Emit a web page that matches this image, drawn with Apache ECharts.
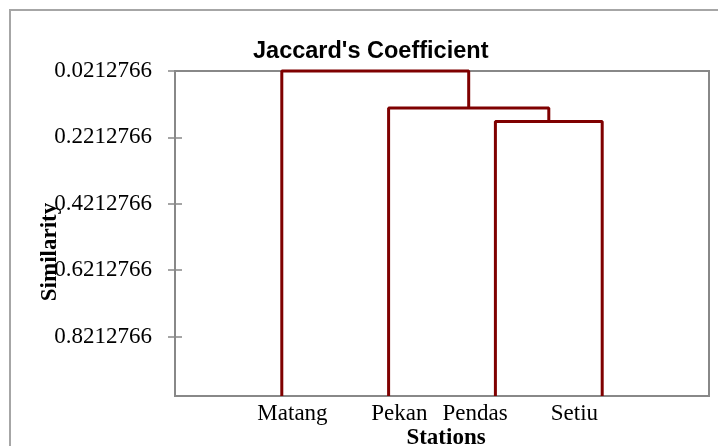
<!DOCTYPE html>
<html>
<head>
<meta charset="utf-8">
<script src="https://cdn.jsdelivr.net/npm/echarts@6/dist/echarts.min.js"></script>
<style>
  html, body { margin: 0; padding: 0; background: #fff; }
  #chart { width: 718px; height: 446px; }
</style>
</head>
<body>
<div id="chart"></div>
<script>
// stations (leaves) and where they stand on the x axis
var stations = ['Matang', 'Pekan', 'Pendas', 'Setiu'];
var leafX = [1, 2, 3, 4];
// where the station names sit under the axis (they are not centred on the leaves)
var labelX = [1.1, 2.1, 2.81, 3.74];

// merges: node a + node b -> new node, at a similarity level
// nodes 0..3 are the leaves, merges get 4, 5, 6
var mergeA = [2, 1, 0];
var mergeB = [3, 4, 5];
var mergeSim = [0.173, 0.133, 0.0212766];

// y axis tick labels
var yTicks = [0.0212766, 0.2212766, 0.4212766, 0.6212766, 0.8212766];
var yMin = 0.0212766, yMax = 1;

var nodeX = leafX.slice();
var nodeY = leafX.map(function () { return yMax; });
var series = [];
mergeA.forEach(function (a, i) {
    var b = mergeB[i];
    var h = mergeSim[i];
    series.push({
        type: 'line',
        data: [[nodeX[a], nodeY[a]], [nodeX[a], h], [nodeX[b], h], [nodeX[b], nodeY[b]]],
        symbol: 'none',
        clip: false,
        lineStyle: { color: '#7f0000', width: 3 },
        silent: true
    });
    nodeX.push((nodeX[a] + nodeX[b]) / 2);
    nodeY.push(h);
});

var myChart = echarts.init(document.getElementById('chart'));
myChart.setOption({
    animation: false,
    title: {
        text: "Jaccard's Coefficient",
        left: 248,
        top: 35,
        textStyle: { fontFamily: 'Liberation Sans', fontWeight: 'bold', fontSize: 23.5, color: '#000' }
    },
    graphic: [{
        type: 'rect',
        shape: { x: 10, y: 10, width: 720, height: 450 },
        style: { fill: 'none', stroke: '#a6a6a6', lineWidth: 2 },
        silent: true
    }, {
        // y axis title
        type: 'text',
        x: 50,
        y: 252,
        rotation: Math.PI / 2,
        style: {
            text: 'Similarity',
            fontFamily: 'Liberation Serif', fontWeight: 'bold', fontSize: 23,
            fill: '#000', align: 'center', verticalAlign: 'middle'
        },
        silent: true
    }],
    grid: {
        left: 175, right: 9, top: 71, bottom: 50,
        outerBoundsMode: 'none',
        show: true, borderColor: '#888', borderWidth: 2, backgroundColor: 'transparent'
    },
    xAxis: {
        type: 'value',
        min: 0,
        max: 5,
        name: 'Stations',
        nameLocation: 'middle',
        nameGap: 31,
        nameMoveOverlap: false,
        nameTextStyle: { fontFamily: 'Liberation Serif', fontWeight: 'bold', fontSize: 23, color: '#000', padding: [0, 0, 0, 8] },
        axisLine: { show: true, lineStyle: { color: '#888', width: 2 } },
        axisTick: { show: false },
        splitLine: { show: false },
        axisLabel: {
            customValues: labelX,
            margin: 6,
            fontFamily: 'Liberation Serif',
            fontSize: 23,
            color: '#000',
            formatter: function (v) {
                for (var i = 0; i < labelX.length; i++) {
                    if (Math.abs(labelX[i] - v) < 1e-6) return stations[i];
                }
                return '';
            }
        }
    },
    yAxis: [{
        type: 'value',
        min: yMin,
        max: yMax,
        inverse: true,
        axisLine: { show: true, lineStyle: { color: '#888', width: 2 } },
        axisTick: { show: true, customValues: yTicks, length: 7, lineStyle: { color: '#888', width: 1.5 } },
        splitLine: { show: false },
        axisLabel: {
            customValues: yTicks,
            margin: 23,
            fontFamily: 'Liberation Serif',
            fontSize: 23,
            color: '#000',
            formatter: function (v) { return v.toFixed(7); }
        }
    }, {
        // second copy only for the inner half of the cross ticks
        type: 'value',
        position: 'left',
        min: yMin,
        max: yMax,
        inverse: true,
        axisLine: { show: false },
        axisTick: { show: true, inside: true, customValues: yTicks, length: 7, lineStyle: { color: '#888', width: 1.5 } },
        axisLabel: { show: false },
        splitLine: { show: false }
    }],
    series: series
});
</script>
</body>
</html>
